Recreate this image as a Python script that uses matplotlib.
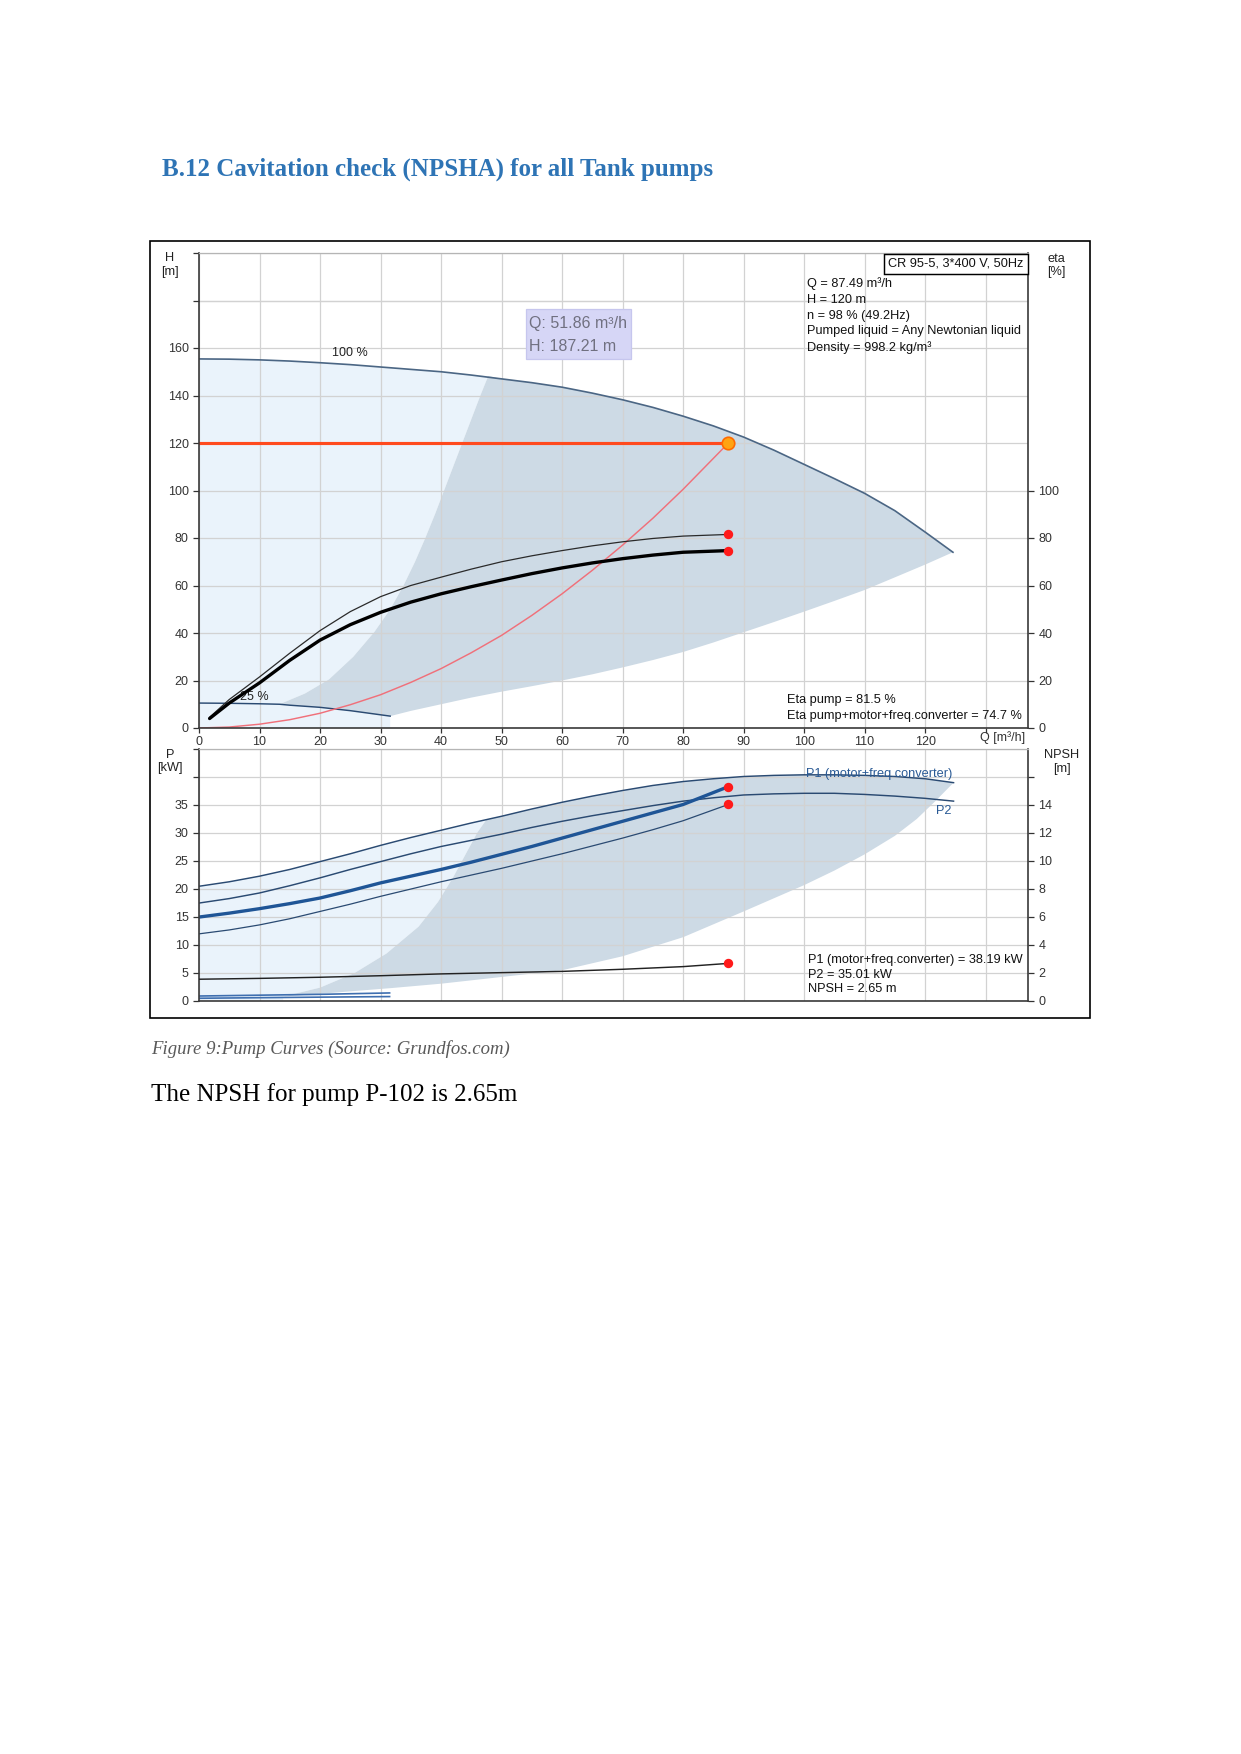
import matplotlib
matplotlib.use('Agg')
import matplotlib.pyplot as plt
from matplotlib.patches import Rectangle
import numpy as np

plt.rcParams['font.family'] = ['Liberation Sans', 'DejaVu Sans']

# ---- head / efficiency chart (Q in m3/h) ----
q_qh = [0, 5, 10, 15, 20, 25, 30, 35, 40, 45, 50, 55, 60, 65, 70, 75, 80, 85, 90, 95,
        100, 105, 110, 115, 120, 124.6]
h_qh = [155.4, 155.3, 155, 154.5, 153.8, 153, 152, 151, 150, 148.6, 147, 145.4, 143.5, 141,
        138.2, 135, 131.3, 127.2, 122.5, 117, 111, 105, 98.8, 91.5, 82.5, 74]

q_min = [0, 5, 10, 13.3, 15, 20, 25, 31.6]
h_min = [10.5, 10.4, 10.2, 10.0, 9.6, 8.7, 7.3, 5]

# borders of the darker area
q_left = [13.3, 17.5, 21.5, 25.5, 29, 31.6, 33.8, 35.7, 37.4, 39, 40.5, 42, 43.5, 45, 46.5, 47.8]
h_left = [10, 14.5, 20.5, 30, 40.5, 50, 60, 70, 80, 90, 100, 110, 120, 130, 140, 148.2]
q_low = [31.6, 35, 40, 45, 50, 55, 60, 65, 70, 75, 80, 85, 90, 95, 100, 105, 110, 116, 120, 124.6]
h_low = [5, 7.2, 10, 12.8, 15.3, 17.6, 20, 22.6, 25.5, 28.6, 32, 36, 40.3, 44.6, 49, 53.5,
         58.1, 64.5, 68.8, 74]

q_sys = [0, 5, 10, 15, 20, 25, 30, 35, 40, 45, 50, 55, 60, 65, 70, 75, 80, 87.49]
h_sys = [0, 0.4, 1.6, 3.5, 6.2, 9.8, 14, 19.2, 25, 31.7, 39, 47.4, 56.5, 66.4, 77, 88.3, 100.5, 120]

q_eta = [1.75, 5, 10, 15, 20, 25, 30, 35, 40, 45, 50, 55, 60, 65, 70, 75, 80, 87.49]
eta_pump = [4.5, 12, 21.5, 31.5, 41, 49, 55.3, 60, 63.5, 66.9, 70, 72.5, 74.7, 76.7, 78.4,
            79.8, 80.8, 81.5]
eta_tot = [4, 10.5, 19, 28.5, 37, 43.5, 48.7, 53, 56.5, 59.5, 62.3, 65, 67.4, 69.5, 71.3,
           72.8, 74, 74.7]

q_duty = 87.49
h_duty = 120

# ---- power / NPSH chart ----
q_p = [0, 5, 10, 15, 20, 25, 30, 35, 40, 45, 50, 55, 60, 65, 70, 75, 80, 85, 90, 95,
       100, 105, 110, 115, 120, 124.7]
p1_max = [20.4, 21.2, 22.2, 23.4, 24.8, 26.2, 27.7, 29.1, 30.4, 31.7, 32.9, 34.2, 35.4, 36.5,
          37.5, 38.4, 39.1, 39.6, 40, 40.2, 40.3, 40.3, 40.2, 40, 39.6, 38.9]
p2_max = [17.4, 18.2, 19.2, 20.5, 21.9, 23.4, 24.8, 26.2, 27.5, 28.6, 29.7, 30.9, 32, 33,
          33.9, 34.8, 35.6, 36.2, 36.7, 36.9, 37, 37, 36.8, 36.5, 36.1, 35.6]
q_op = [0, 5, 10, 15, 20, 25, 30, 35, 40, 45, 50, 55, 60, 65, 70, 75, 80, 87.49]
p1_op = [14.9, 15.6, 16.4, 17.3, 18.3, 19.6, 21, 22.2, 23.4, 24.7, 26.1, 27.5, 29, 30.5, 32,
         33.5, 35, 38.19]
p2_op = [11.9, 12.6, 13.5, 14.6, 15.9, 17.2, 18.6, 19.9, 21.2, 22.4, 23.6, 24.9, 26.2, 27.6,
         29, 30.5, 32.1, 35.01]
q_pmin = [0, 10, 20, 31.5]
p1_min = [0.8, 0.95, 1.1, 1.35]
p2_min = [0.4, 0.5, 0.6, 0.7]
q_npsh = [0, 10, 20, 30, 40, 50, 60, 70, 80, 87.49]
npsh = [1.52, 1.58, 1.66, 1.77, 1.9, 1.99, 2.08, 2.23, 2.42, 2.65]
q_pleft = [13.9, 20, 25.7, 31, 36.3, 39.5, 42, 44.3, 46, 47.5]
p_pleft = [0.7, 2.3, 4.9, 8.4, 13.2, 17.6, 22, 26.6, 30, 32.3]
q_plow = [13.9, 20, 31.6, 40, 50, 60, 70, 80, 90, 100, 105, 110, 115, 118.6, 121.5, 124.7]
p_plow = [0.7, 1.2, 2.2, 3.0, 4.2, 5.4, 7.9, 11.3, 15.9, 20.6, 23.2, 26.1, 29.4, 32.4, 35.4, 38.9]

info_top = ["Q = 87.49 m\u00b3/h", "H = 120 m", "n = 98 % (49.2Hz)",
            "Pumped liquid = Any Newtonian liquid", "Density = 998.2 kg/m\u00b3"]
info_eta = ["Eta pump = 81.5 %", "Eta pump+motor+freq.converter = 74.7 %"]
info_p = ["P1 (motor+freq.converter) = 38.19 kW", "P2 = 35.01 kW", "NPSH = 2.65 m"]

W, H = 1241, 1754
def fx(x):
    return x / W
def fy(y):
    return 1 - y / H

light = '#eaf3fb'
dark = '#cddae5'
grid_c = '#d2d2d2'
spine_c = '#3a3a3a'
tick_c = '#333333'
blue_line = '#2a4a72'

fig = plt.figure(figsize=(W / 150, H / 150), dpi=150)

# page texts
fig.text(fx(162), fy(169), "B.12 Cavitation check (NPSHA) for all Tank pumps",
         family='Liberation Serif', weight='bold', size=12, color='#2e74b5', va='center')
fig.text(fx(151), fy(1049), "Figure 9:Pump Curves (Source: Grundfos.com)",
         family='Liberation Serif', style='italic', size=9, color='#595959', va='center')
fig.text(fx(151), fy(1095), "The NPSH for pump P-102 is 2.65m",
         family='Liberation Serif', size=12, color='black', va='center')

# outer frame
fig.patches.append(Rectangle((fx(149.5), fy(1018)), fx(1090) - fx(149.5), fy(240.5) - fy(1018),
                             transform=fig.transFigure, fill=False, ec='black', lw=0.8))


def style(ax, ymax, ystep, ylab_max):
    ax.set_xlim(0, 137)
    ax.set_ylim(0, ymax)
    ax.set_xticks(np.arange(0, 131, 10))
    ax.set_yticks(np.arange(0, ymax + 0.1, ystep))
    ax.set_yticklabels([('%g' % v if v <= ylab_max else '') for v in np.arange(0, ymax + 0.1, ystep)])
    ax.grid(True, color=grid_c, lw=0.6)
    ax.set_axisbelow(True)
    for s in ['left', 'bottom', 'right']:
        ax.spines[s].set_color(spine_c)
        ax.spines[s].set_linewidth(0.8)
    ax.spines['top'].set_color('#b5b5b5')
    ax.spines['top'].set_linewidth(0.6)
    ax.tick_params(labelsize=6, colors=tick_c, length=2.5, width=0.6, pad=2)
    ax.tick_params(axis='x', pad=1.2)
    ax.tick_params(axis='y', which='major', length=3)


# ===== upper chart =====
ax1 = fig.add_axes([fx(199), fy(728), fx(1028) - fx(199), fy(253) - fy(728)])
style(ax1, 200, 20, 160)
ax1.set_xticklabels([str(v) for v in range(0, 121, 10)] + [''])

qh_top = [(q, h) for q, h in zip(q_qh, h_qh) if q < q_left[-1]]
light_poly = [(0, 0)] + qh_top + list(zip(q_left, h_left))[::-1] \
    + [(q, h) for q, h in zip(q_min, h_min) if q > q_left[0]] + [(q_min[-1], 0)]
ax1.fill([p[0] for p in light_poly], [p[1] for p in light_poly], color=light, lw=0, zorder=0.2)

dark_poly = list(zip(q_left, h_left)) + [(q, h) for q, h in zip(q_qh, h_qh) if q > q_left[-1]] \
    + list(zip(q_low, h_low))[::-1] + [(q, h) for q, h in zip(q_min, h_min) if q > q_left[0]][::-1]
ax1.fill([p[0] for p in dark_poly], [p[1] for p in dark_poly], color=dark, lw=0, zorder=0.3)

ax1.axhline(180, color=grid_c, lw=0.6, zorder=0.5)
ax1.plot(q_qh, h_qh, color='#4b6684', lw=0.8)
ax1.plot(q_min, h_min, color=blue_line, lw=0.7)
ax1.plot(q_sys, h_sys, color='#f0707a', lw=0.7)
ax1.plot([0, q_duty], [h_duty, h_duty], color='#ff4a1e', lw=1.5)
ax1.plot([q_duty], [h_duty], 'o', ms=6, mfc='#ffa312', mec='#ff6a00', mew=0.8, zorder=5)

ax1.text(25, 158, "100 %", size=6, color='#222', ha='center', va='center')
ax1.text(9.2, 13, "25 %", size=6, color='#222', ha='center', va='center')

# efficiency on the right axis
ax1r = ax1.twinx()
ax1r.set_ylim(0, 200)
ax1r.set_yticks(np.arange(0, 101, 20))
ax1r.tick_params(labelsize=6, colors=tick_c, length=3, width=0.6, pad=2)
for s in ax1r.spines.values():
    s.set_visible(False)
ax1r.plot(q_eta, eta_pump, color='#2a2a2a', lw=0.6)
ax1r.plot(q_eta, eta_tot, color='black', lw=1.6, solid_capstyle='round')
ax1r.plot([q_eta[-1]] * 2, [eta_pump[-1], eta_tot[-1]], 'o', ms=3.5, color='#ff1a1a', zorder=5)

# ===== lower chart =====
ax2 = fig.add_axes([fx(199), fy(1000.5), fx(1028) - fx(199), fy(748.5) - fy(1000.5)])
style(ax2, 45, 5, 35)
ax2.tick_params(axis='x', labelbottom=False, length=0)

p1_top = [(q, p) for q, p in zip(q_p, p1_max) if q < q_pleft[-1]]
lp = [(0, 0)] + p1_top + list(zip(q_pleft, p_pleft))[::-1] + [(q_pleft[0], 0)]
ax2.fill([p[0] for p in lp], [p[1] for p in lp], color=light, lw=0, zorder=0.2)
dp = list(zip(q_pleft, p_pleft)) + [(q, p) for q, p in zip(q_p, p1_max) if q > q_pleft[-1]] \
    + list(zip(q_plow, p_plow))[::-1]
ax2.fill([p[0] for p in dp], [p[1] for p in dp], color=dark, lw=0, zorder=0.3)

ax2.plot(q_p, p1_max, color=blue_line, lw=0.7)
ax2.plot(q_p, p2_max, color=blue_line, lw=0.7)
ax2.plot(q_op, p1_op, color='#1f5596', lw=1.6, solid_capstyle='round')
ax2.plot(q_op, p2_op, color=blue_line, lw=0.6)
ax2.plot(q_pmin, p1_min, color='#3f6fb0', lw=0.8)
ax2.plot(q_pmin, p2_min, color='#3f6fb0', lw=0.8)
ax2.plot([q_op[-1]] * 2, [p1_op[-1], p2_op[-1]], 'o', ms=3.5, color='#ff1a1a', zorder=5)

ax2r = ax2.twinx()
ax2r.set_ylim(0, 18)
ax2r.set_yticks(np.arange(0, 17, 2))
ax2r.set_yticklabels([str(v) for v in range(0, 15, 2)] + [''])
ax2r.tick_params(labelsize=6, colors=tick_c, length=3, width=0.6, pad=2)
for s in ax2r.spines.values():
    s.set_visible(False)
ax2r.plot(q_npsh, npsh, color='#222', lw=0.7)
ax2r.plot([q_npsh[-1]], [npsh[-1]], 'o', ms=3.5, color='#ff1a1a', zorder=5)

# ===== chart texts =====
tsz = 6.1
fig.text(fx(170), fy(258), "H", size=tsz, ha='center', va='center', color='#222')
fig.text(fx(170), fy(272), "[m]", size=tsz, ha='center', va='center', color='#222')
fig.text(fx(1056), fy(259), "eta", size=tsz, ha='center', va='center', color='#222')
fig.text(fx(1056), fy(272), "[%]", size=tsz, ha='center', va='center', color='#222')
fig.text(fx(170), fy(755), "P", size=tsz, ha='center', va='center', color='#222')
fig.text(fx(170), fy(768), "[kW]", size=tsz, ha='center', va='center', color='#222')
fig.text(fx(1062), fy(755), "NPSH", size=tsz, ha='center', va='center', color='#222')
fig.text(fx(1062), fy(769), "[m]", size=tsz, ha='center', va='center', color='#222')
fig.text(fx(1025), fy(738), "Q [m\u00b3/h]", size=6, ha='right', va='center', color=tick_c)

# product box
fig.patches.append(Rectangle((fx(884), fy(273.5)), fx(1028) - fx(884), fy(254) - fy(273.5),
                             transform=fig.transFigure, fc='white', ec='black', lw=0.7, zorder=3))
fig.text(fx(888), fy(263.5), "CR 95-5, 3*400 V, 50Hz", size=tsz, va='center', color='#111', zorder=4)

for i, s in enumerate(info_top):
    fig.text(fx(807), fy(284 + 15.8 * i), s, size=tsz, va='center', color='#111')
for i, s in enumerate(info_eta):
    fig.text(fx(787), fy(700 + 16 * i), s, size=tsz, va='center', color='#111')
for i, s in enumerate(info_p):
    fig.text(fx(808), fy(960 + 14.7 * i), s, size=tsz, va='center', color='#111')

fig.text(fx(806), fy(774.5), "P1 (motor+freq.converter)", size=tsz, va='center', color='#2a5a95')
fig.text(fx(936), fy(811), "P2", size=tsz, va='center', color='#2a5a95')

# tooltip
fig.patches.append(Rectangle((fx(526), fy(359)), fx(631) - fx(526), fy(309) - fy(359),
                             transform=fig.transFigure, fc='#d6d6f6', ec='#c6c6ee', lw=0.6, zorder=3))
fig.text(fx(529), fy(323.5), "Q: 51.86 m\u00b3/h", size=7.7, va='center', color='#707080', zorder=4)
fig.text(fx(529), fy(346.5), "H: 187.21 m", size=7.7, va='center', color='#707080', zorder=4)

fig.savefig('out.png', dpi=150)
